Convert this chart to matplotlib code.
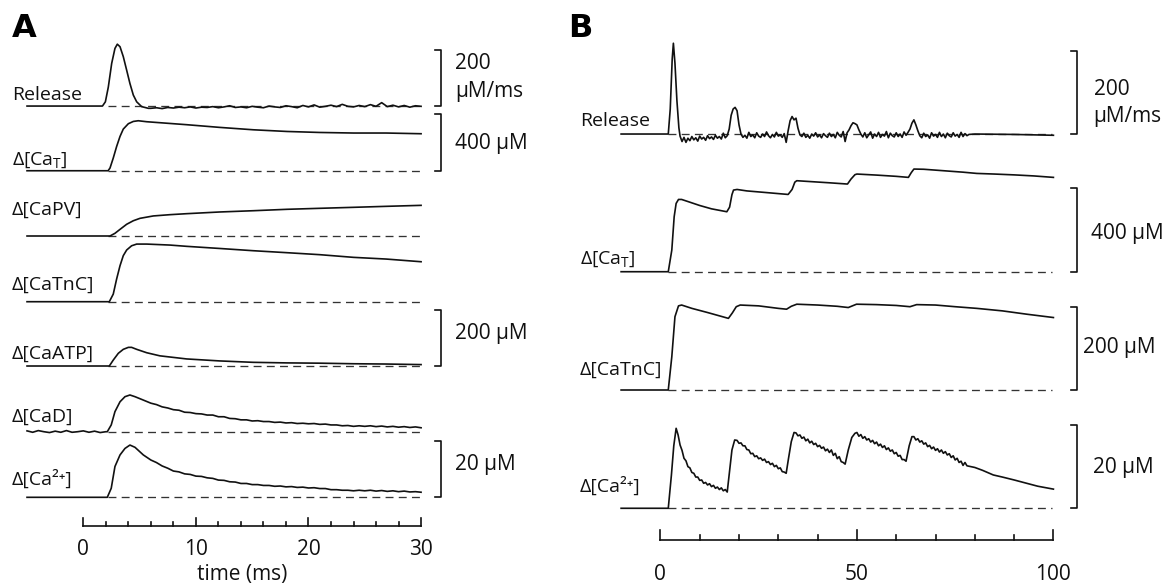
import numpy as np
import matplotlib.pyplot as plt

plt.rcParams['font.family'] = ['Open Sans', 'DejaVu Sans']
plt.rcParams['mathtext.default'] = 'regular'

# ---------------- Panel A: single release, time in ms ----------------
# Release (uM/ms)
a_rel_t = [-5, 1.7, 1.96, 2.22, 2.52, 2.81, 3.02, 3.26, 3.55, 3.85, 4.14, 4.44, 4.74, 5.18, 5.77]
a_rel_v = [0, 0, 15, 67, 151, 204, 219, 210, 175, 127, 80, 39, 15, -2, -8]
a_rel_tail = [-8, -6, -9, -5, -7, -4, -6, -3, -7, -4, -5, -2, -6, -3, 1, -5, -3, -6, -1, -4,
              -6, 0, -3, -5, 1, -2, -6, 2, -3, 4, -4, -1, 3, -2, 6, -1, -3, 2, -2, 5,
              -1, 12, -2, 3, -3, 2, -4, 1, -1]  # 6..30 ms

# d[CaT] (uM)
a_cat_t = [-5, 2.2, 2.37, 2.66, 2.96, 3.26, 3.55, 4.0, 4.44, 4.88, 5.63, 9.18, 12.1, 15.1, 18.1, 21.0, 24.0, 26.9, 30]
a_cat_v = [0, 0, 19, 90, 172, 243, 295, 333, 349, 354, 347, 326, 307, 290, 278, 271, 267, 267, 262]

# d[CaPV] (uM)
a_capv_t = [-5, 2.37, 2.81, 3.26, 3.85, 4.44, 5.03, 6.22, 7.7, 9.18, 12.1, 15.1, 18.1, 21.0, 24.0, 26.9, 30]
a_capv_v = [0, 0, 19, 47, 83, 108, 125, 142, 151, 158, 170, 179, 189, 196, 203, 210, 217]

# d[CaTnC] (uM)
a_catnc_t = [-5, 2.31, 2.66, 2.96, 3.26, 3.55, 3.85, 4.29, 4.74, 5.63, 7.7, 9.18, 12.1, 15.1, 18.1, 21.0, 24.0, 26.9, 30]
a_catnc_v = [0, 0, 54, 161, 255, 326, 366, 396, 408, 408, 401, 392, 377, 361, 347, 333, 314, 302, 283]

# d[CaATP] (uM)
a_caatp_t = [-5, 2.31, 2.66, 3.11, 3.55, 4.0, 4.29, 4.74, 5.63, 6.8, 9.18, 12.1, 15.1, 18.1, 21.0, 24.0, 26.9, 30]
a_caatp_v = [0, 0, 21, 45, 59, 66, 66, 59, 47, 36, 25, 18, 13, 11, 10, 8, 7, 5]

# d[CaD] (uM)
a_cad_pre = [3, -2, 4, 0, -3, 2, -2, 4, -2, 0, 3, -2, 2, -3, 0]  # -5..2 ms
a_cad_t = [2.13, 2.48, 2.81, 3.26, 3.7, 4.14, 4.59, 5.33]
a_cad_v = [0, 24, 71, 106, 124, 130, 124, 112]
a_cad_tail = [101, 96, 88, 84, 78, 76, 69, 68, 64, 63, 59, 59, 53, 53, 47, 46, 42, 42, 38, 39,
              36, 36, 33, 34, 31, 32, 29, 30, 28, 29, 26, 27, 24, 24, 21, 22, 19, 21, 19, 21,
              18, 20, 17, 19, 16, 18, 15, 17, 14]  # 6..30 ms

# d[Ca2+] (uM)
a_ca_t = [-5, 2.13, 2.48, 2.81, 3.26, 3.7, 4.14, 4.59, 5.33]
a_ca_v = [0, 0, 3.2, 10.9, 15.0, 17.3, 18.5, 17.7, 15.0]
a_ca_tail = [13.2, 12.3, 11.1, 10.3, 9.3, 9.0, 8.3, 8.1, 7.5, 7.4, 6.9, 6.7, 6.1, 6.0, 5.5, 5.4,
             4.9, 4.9, 4.5, 4.5, 4.2, 4.2, 3.9, 4.0, 3.7, 3.8, 3.5, 3.6, 3.3, 3.4, 3.1, 3.1,
             2.7, 2.7, 2.5, 2.5, 2.3, 2.5, 2.3, 2.5, 2.2, 2.4, 2.1, 2.3, 2.0, 2.2, 1.9, 2.0, 1.8]  # 6..30 ms

a_labels = ['Release', 'Δ[Ca$_{T}$]', 'Δ[CaPV]', 'Δ[CaTnC]', 'Δ[CaATP]', 'Δ[CaD]', 'Δ[Ca²⁺]']
a_units = [200, 400, 400, 400, 200, 200, 20]   # value of one scale bar for each trace
a_bars = [(0, '200', 'µM/ms'), (1, '400 µM', None), (4, '200 µM', None), (6, '20 µM', None)]
a_ticks = list(range(0, 31, 2))
a_ticklabels = [0, 10, 20, 30]

# ---------------- Panel B: repeated release ----------------
b_rel_t = [-10, 2.0, 2.5, 3.0, 3.3, 3.7, 4.2, 4.7, 5.0]
b_rel_v = [0, 0, 60, 180, 218, 170, 80, 15, -5]
b_rel_noise = [-18, -8, -20, -10, -16, -6, -14, -9, -17, -5, -12, -8, -15, -4, -11, -7, -13, -3, -10, -6,
               -12, 2, -9, -4,
               12, 45, 60, 64, 56, 22, 0,
               -8, -3, -10, 4, -6, -2, -9, 3, -5, -8, 0, -6, 5, -4, -9, -1, -7, 4, -5, -2, -8, 1, -20,
               8, 32, 42, 34, 38, 14, -2,
               -6, 2, -8, -3, -10, 0, -5, 3, -7, -2, -9, 1, -4, -8, 2, -6, -1, -9, 4, -3, -7, 6, -18, 3,
               10, 20, 27, 25, 22, 10, 0,
               -7, 3, -9, -2, 5, -10, 0, -6, 4, -8, -1, -5, 6, -9, 2, -4, -7, 3, -6, 0, -8, 5, -3, 4,
               12, 26, 34, 22, 8, -4,
               -9, 2, -6, -2, -10, 3, -5, -1, -8, 4, -6, 0, -9, 2, -4, -7, 3, -5, -1, -8, 4, -6, 1, -4, -1]  # 5.5..78.5 ms
b_rel_end_t = [80, 90, 100]
b_rel_end_v = [0, -1, -3]

b_cat_t = [-10, 2.0, 2.9, 3.5, 4.0, 4.6, 5.4, 7, 10, 13, 16.9, 17.6, 18.2, 18.6, 19.5, 22, 27, 32.5, 33.5, 34.2,
           34.7, 38, 43, 47.6, 48.5, 49.5, 50, 55, 60, 63.1, 63.8, 64.5, 67, 72, 77, 80.5, 85, 90, 95, 100]
b_cat_v = [0, 0, 104, 264, 328, 347, 347, 337, 318, 302, 288, 310, 370, 392, 395, 388, 380, 371, 395, 430,
           437, 433, 427, 421, 445, 466, 469, 464, 458, 453, 475, 493, 492, 485, 478, 472, 469, 465, 460, 453]

b_catnc_t = [-10, 2.0, 2.9, 3.7, 4.6, 5.4, 8, 12, 17.3, 18.3, 19.3, 20.3, 25, 30, 32.1, 33.3, 34.7, 40, 45, 47.8,
             49.9, 55, 60, 63.5, 65.2, 70, 75, 80.5, 87, 93.2, 100]
b_catnc_v = [0, 0, 80, 176, 202, 204, 196, 186, 172, 185, 200, 204, 202, 196, 194, 201, 206, 204, 201, 198,
             206, 205, 203, 200, 205, 204, 200, 196, 190, 182, 174]

# d[Ca2+] in B, built from rise points and 0.5 ms decay stretches
b_ca_rise1_t, b_ca_rise1_v = [-10, 2.0, 2.8, 3.4, 4.0], [0, 0, 8, 15, 19.2]
b_ca_decay1 = [17.6, 15.2, 13.9, 12.0, 11.4, 10.0, 9.7, 8.6, 8.4, 7.5, 7.5, 6.7, 6.8, 6.0, 6.2, 5.6,
               5.9, 5.2, 5.5, 4.8, 5.1, 4.5, 4.9, 4.2, 4.5]  # 4.5..16.5
b_ca_rise2_t, b_ca_rise2_v = [17.0, 17.6, 18.2, 18.9], [3.9, 9, 14, 16.4]
b_ca_decay2 = [16.3, 15.6, 15.7, 15.0, 15.0, 14.1, 14.0, 13.1, 13.2, 12.4, 12.6, 11.9, 12.1, 11.5,
               11.8, 11.0, 11.2, 10.5, 10.8, 10.0, 10.3, 9.5, 9.7, 8.8, 8.7]  # 19.5..31.5
b_ca_rise3_t, b_ca_rise3_v = [32.0, 32.6, 33.3, 34.0], [8.4, 12, 16, 18.2]
b_ca_decay3 = [18.1, 17.4, 17.6, 16.8, 17.1, 16.2, 16.6, 15.7, 16.1, 15.3, 15.6, 14.8, 15.1, 14.4,
               14.7, 13.8, 14.2, 13.4, 14.0, 12.7, 13.2, 11.9, 12.4, 11.2, 11.0]  # 34.5..46.5
b_ca_rise4_t, b_ca_rise4_v = [47.0, 47.8, 48.7, 49.5], [10.6, 14, 17, 18.0]
b_ca_decay4 = [18.2, 17.3, 17.7, 16.8, 17.2, 16.4, 16.7, 15.9, 16.3, 15.5, 15.9, 15.0, 15.4, 14.6,
               15.0, 14.1, 14.5, 13.7, 14.0, 13.1, 13.4, 12.5, 12.7, 11.7, 11.7]  # 50..62
b_ca_rise5_t, b_ca_rise5_v = [62.5, 63.3, 64.0], [11.3, 15, 17.2]
b_ca_decay5 = [17.2, 16.4, 16.7, 15.9, 16.2, 15.4, 15.7, 14.8, 15.1, 14.3, 14.7, 13.9, 14.3, 13.5,
               14.0, 13.2, 13.6, 12.8, 13.1, 12.2, 12.6, 11.6, 12.0, 11.0, 11.3, 10.3, 11.0, 10.2, 10.1]  # 64.5..78.5
b_ca_tail_t = [80, 82, 84.7, 87, 90, 93.2, 96, 100]
b_ca_tail_v = [9.8, 9.1, 8.0, 7.5, 6.8, 6.0, 5.3, 4.6]

b_labels = ['Release', 'Δ[Ca$_{T}$]', 'Δ[CaTnC]', 'Δ[Ca²⁺]']
b_units = [200, 400, 200, 20]
b_bars = [(0, '200', 'µM/ms'), (1, '400 µM', None), (2, '200 µM', None), (3, '20 µM', None)]
b_ticks = list(range(0, 101, 10))
b_ticklabels = [0, 50, 100]


def stretch(t0, t1, vals):
    return list(np.linspace(t0, t1, len(vals))), list(vals)


# assemble traces
a_traces = [
    (a_rel_t + stretch(6, 30, a_rel_tail)[0], a_rel_v + a_rel_tail),
    (a_cat_t, a_cat_v),
    (a_capv_t, a_capv_v),
    (a_catnc_t, a_catnc_v),
    (a_caatp_t, a_caatp_v),
    (stretch(-5, 2, a_cad_pre)[0] + a_cad_t + stretch(6, 30, a_cad_tail)[0], a_cad_pre + a_cad_v + a_cad_tail),
    (a_ca_t + stretch(6, 30, a_ca_tail)[0], a_ca_v + a_ca_tail),
]

b_ca_t, b_ca_v = [], []
for seg in [(b_ca_rise1_t, b_ca_rise1_v), stretch(4.5, 16.5, b_ca_decay1),
            (b_ca_rise2_t, b_ca_rise2_v), stretch(19.5, 31.5, b_ca_decay2),
            (b_ca_rise3_t, b_ca_rise3_v), stretch(34.5, 46.5, b_ca_decay3),
            (b_ca_rise4_t, b_ca_rise4_v), stretch(50, 62, b_ca_decay4),
            (b_ca_rise5_t, b_ca_rise5_v), stretch(64.5, 78.5, b_ca_decay5),
            (b_ca_tail_t, b_ca_tail_v)]:
    b_ca_t += list(seg[0])
    b_ca_v += list(seg[1])

b_traces = [
    (b_rel_t + stretch(5.5, 78.5, b_rel_noise)[0] + b_rel_end_t, b_rel_v + b_rel_noise + b_rel_end_v),
    (b_cat_t, b_cat_v),
    (b_catnc_t, b_catnc_v),
    (b_ca_t, b_ca_v),
]

# ---------------- layout ----------------
K = '#111111'
DASH = (0, (6, 4))
fig = plt.figure(figsize=(11.67, 5.85), dpi=100)

panels = [
    dict(rect=[0, 0, 560 / 1167, 1], xlim=(-7.40, 42.34), ylim=(-1.552, 8.802),
         traces=a_traces, units=a_units, labels=a_labels, bars=a_bars,
         offsets=[6.925, 5.780, 4.625, 3.462, 2.324, 1.161, 0.0],
         label_x=-6.33, label_y=[7.032, 5.885, 4.996, 3.681, 2.460, 1.338, 0.218],
         dash=(2.2, 30), bar_x=(31.23, 31.77),
         bar_text_xs=[33.0, 33.0, 33.0, 33.0],
         bar_text_y=[(7.573, 7.090), (6.165,), (2.796,), (0.483,)],
         ticks=a_ticks, ticklabels=a_ticklabels, axis_y=-0.503, tick_h=(0.142, 0.071),
         tick_text_y=-1.028, xlabel='time (ms)', xlabel_pos=(14.1, -1.460),
         letter='A', letter_pos=(-6.33, 8.147)),
    dict(rect=[560 / 1167, 0, 607 / 1167, 1], xlim=(-25.55, 128.9), ylim=(-0.921, 6.102),
         traces=b_traces, units=b_units, labels=b_labels, bars=b_bars,
         offsets=[4.493, 2.840, 1.420, 0.0],
         label_x=-20.45, label_y=[4.589, 2.933, 1.600, 0.199],
         dash=(2.0, 99.7), bar_x=(104.35, 106.0),
         bar_text_xs=[110.2, 109.6, 107.5, 110.0],
         bar_text_y=[(4.962, 4.634), (3.233,), (1.868,), (0.420,)],
         ticks=b_ticks, ticklabels=b_ticklabels, axis_y=-0.381, tick_h=(0.12, 0.06),
         tick_text_y=-0.861, xlabel=None, xlabel_pos=None,
         letter='B', letter_pos=(-23.5, 5.658)),
]

for p in panels:
    ax = fig.add_axes(p['rect'])
    ax.set_xlim(*p['xlim'])
    ax.set_ylim(*p['ylim'])
    ax.axis('off')

    for (t, v), unit, off, lab, ly in zip(p['traces'], p['units'], p['offsets'], p['labels'], p['label_y']):
        ax.plot(p['dash'], [off, off], color='#333333', lw=0.95, ls=DASH)
        ax.plot(t, off + np.asarray(v, float) / unit, color=K, lw=1.2, solid_joinstyle='round')
        ax.text(p['label_x'], ly, lab, fontsize=14, ha='left', va='baseline', color=K)

    x_tick, x_bar = p['bar_x']
    for j, (idx, line1, line2) in enumerate(p['bars']):
        y0 = p['offsets'][idx]
        ax.plot([x_tick, x_bar, x_bar, x_tick], [y0 + 1, y0 + 1, y0, y0], color=K, lw=1.2)
        tx = p['bar_text_xs'][j]
        ys = p['bar_text_y'][j]
        ax.text(tx, ys[0], line1, fontsize=15, ha='left', va='baseline', color=K)
        if line2:
            ax.text(tx, ys[1], line2, fontsize=15, ha='left', va='baseline', color=K)

    ay = p['axis_y']
    ticks = p['ticks']
    ax.plot([ticks[0], ticks[-1]], [ay, ay], color=K, lw=1.2)
    for tk in ticks:
        h = p['tick_h'][0] if tk in p['ticklabels'] else p['tick_h'][1]
        ax.plot([tk, tk], [ay, ay + h], color=K, lw=1.2)
    for tk in p['ticklabels']:
        ax.text(tk, p['tick_text_y'], str(tk), fontsize=15, ha='center', va='baseline', color=K)
    if p['xlabel']:
        ax.text(*p['xlabel_pos'], p['xlabel'], fontsize=15, ha='center', va='baseline', color=K)
    ax.text(*p['letter_pos'], p['letter'], fontsize=23, fontweight='heavy',
            family='DejaVu Sans', ha='left', va='baseline', color='black')

fig.savefig('out.png', dpi=100)
